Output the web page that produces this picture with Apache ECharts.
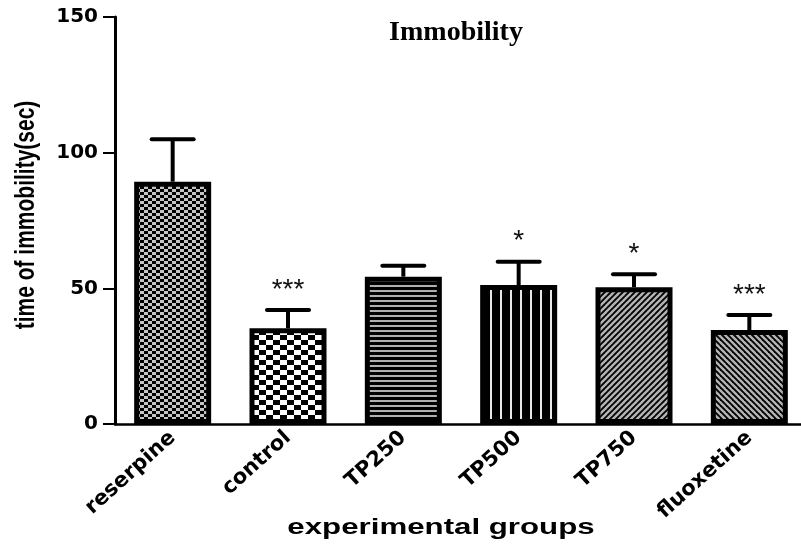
<!DOCTYPE html>
<html>
<head>
<meta charset="utf-8">
<script src="https://cdn.jsdelivr.net/npm/echarts@6/dist/echarts.min.js"></script>
<style>html,body{margin:0;padding:0;background:#fff}#main{width:801px;height:553px}</style>
</head>
<body>
<div id="main"></div>
<script>
const categories = ['reserpine', 'control', 'TP250', 'TP500', 'TP750', 'fluoxetine'];
const means = [89.3, 35.3, 54.3, 51.2, 50.4, 34.6];
const sems = [15.6, 6.7, 4.0, 8.6, 4.8, 5.6];
const significance = ['', '***', '', '*', '*', '***'];
const yTicks = [0, 50, 100, 150];

function mk(w, h) { const c = document.createElement('canvas'); c.width = w; c.height = h; const g = c.getContext('2d'); g.fillStyle = '#000'; g.fillRect(0, 0, w, h); return [c, g]; }
function checker(cw, ch, light) {
  const [c, g] = mk(cw * 2, ch * 2); g.fillStyle = light;
  g.fillRect(0, 0, cw, ch); g.fillRect(cw, ch, cw, ch); return c;
}
function hstripes(p, lw, col) { const [c, g] = mk(4, p); g.fillStyle = col; g.fillRect(0, 0, 4, lw); return c; }
function vstripes(p, lw, col) { const [c, g] = mk(p, 4); g.fillStyle = col; g.fillRect(0, 0, lw, 4); return c; }
function diag(p, lw, col, up) {
  const [c, g] = mk(p, p); g.strokeStyle = col; g.lineWidth = lw;
  const seg = (x1, y1, x2, y2) => { g.beginPath(); g.moveTo(x1, y1); g.lineTo(x2, y2); g.stroke(); };
  if (up) { seg(-p, p, p, -p); seg(0, p, p, 0); seg(0, 2 * p, 2 * p, 0); }
  else { seg(-p, 0, p, 2 * p); seg(0, 0, p, p); seg(0, -p, 2 * p, p); }
  return c;
}
const patterns = [
  checker(4, 3, '#c4c4c4'),
  checker(7, 5, '#ffffff'),
  hstripes(5, 2, '#b0b0b0'),
  vstripes(10, 2, '#e8e8e8'),
  diag(6, 2.4, '#b4b4b4', true),
  diag(6, 2.4, '#b4b4b4', false)
];

const chart = echarts.init(document.getElementById('main'), null, { renderer: 'canvas' });
const option = {
  backgroundColor: '#fff',
  animation: false,
  grid: { left: 115, top: 17, right: -6, bottom: 129, containLabel: false, outerBoundsMode: 'none' },
  xAxis: {
    type: 'category',
    data: categories,
    axisLine: { lineStyle: { color: '#000', width: 2.5 } },
    axisTick: { alignWithLabel: true, length: 9, lineStyle: { color: '#000', width: 2 } },
    axisLabel: { interval: 0, rotate: 42, margin: 11, color: '#000', fontFamily: 'DejaVu Sans', fontWeight: 'bold', fontSize: 21 }
  },
  yAxis: {
    type: 'value', min: yTicks[0], max: yTicks[yTicks.length - 1], interval: 50,
    axisLine: { show: true, lineStyle: { color: '#000', width: 3 } },
    axisTick: { show: true, length: 12, lineStyle: { color: '#000', width: 2 } },
    axisLabel: { margin: 17, color: '#000', fontFamily: 'DejaVu Sans', fontWeight: 'bold', fontSize: 20 },
    splitLine: { show: false }
  },
  graphic: [
    { type: 'text', x: 456, y: 33, style: { text: 'Immobility', fill: '#000', font: 'bold 28px "Liberation Serif", "Times New Roman", serif', align: 'center', verticalAlign: 'middle' } },
    { type: 'text', x: 441, y: 528, scaleX: 1.42, style: { text: 'experimental groups', fill: '#000', font: 'bold 22px "Liberation Sans", Arial, sans-serif', align: 'center', verticalAlign: 'middle' } },
    { type: 'text', x: 26, y: 215, rotation: Math.PI / 2, scaleY: 1.35, style: { text: 'time of immobility(sec)', fill: '#000', font: 'bold 21px "Liberation Sans", Arial, sans-serif', align: 'center', verticalAlign: 'middle' } }
  ],
  series: [
    {
      type: 'bar', barWidth: 77,
      data: means.map((v, i) => ({ value: v, itemStyle: { color: { image: patterns[i], repeat: 'repeat' } } })),
      itemStyle: { borderColor: '#000', borderWidth: 5 },
      z: 2
    },
    {
      type: 'custom', z: 3,
      data: means.map((v, i) => [i, v, v + sems[i]]),
      renderItem: function (params, api) {
        const i = params.dataIndex;
        const base = api.coord([api.value(0), api.value(1)]);
        const top = api.coord([api.value(0), api.value(2)]);
        return {
          type: 'group',
          children: [
            { type: 'line', shape: { x1: base[0], y1: base[1], x2: top[0], y2: top[1] }, style: { stroke: '#000', lineWidth: 4 } },
            { type: 'line', shape: { x1: top[0] - 21, y1: top[1], x2: top[0] + 21, y2: top[1] }, style: { stroke: '#000', lineWidth: 4, lineCap: 'round' } },
            { type: 'text', x: top[0], y: top[1] - 20, style: { text: significance[i], fill: '#111', font: '28px "Liberation Sans", Arial, sans-serif', align: 'center', verticalAlign: 'middle' } }
          ]
        };
      }
    }
  ]
};
chart.setOption(option);
</script>
</body>
</html>
